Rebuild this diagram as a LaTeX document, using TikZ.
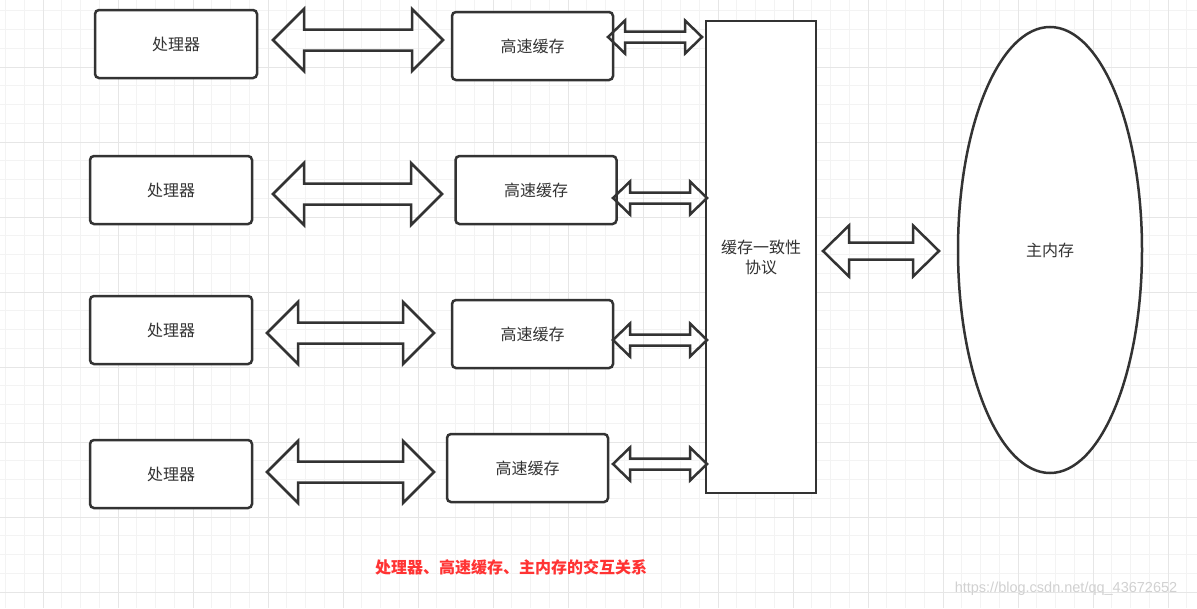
\documentclass[tikz,border=0pt]{standalone}
\usepackage{fontspec}
\usetikzlibrary{calc,shapes.geometric}
\newfontfamily\cjk{Noto Sans CJK SC}
\newfontfamily\wmfont{Liberation Sans}

\definecolor{edge}{HTML}{333333}
\definecolor{minorline}{HTML}{F3F3F3}
\definecolor{majorline}{HTML}{E6E6E6}
\definecolor{captionred}{HTML}{FF3333}
\tikzset{box/.style={draw=edge, fill=white, line width=2.5pt, rounded corners=4pt,
        minimum width=162pt, minimum height=68pt, inner sep=0pt,
        text=edge, font=\cjk\fontsize{16}{19}\selectfont},
    hollow/.style={draw=edge, line width=2.5pt},
    minorgrid/.style={draw=minorline, line width=1pt},
    majorgrid/.style={draw=majorline, line width=1pt}}

% hollow double arrow: from, to, head length, head half width, shaft half width
\newcommand\dblarrow[5]{%
  \draw[hollow] (#1) -- ++(#3,-#4) -- ++(0,#4-#5) -- ($(#2)+(-#3,-#5)$)
    -- ++(0,#5-#4) -- (#2) -- ++(-#3,#4) -- ++(0,#5-#4)
    -- ($(#1)+(#3,#5)$) -- ++(0,#4-#5) -- cycle;}

\begin{document}
\begin{tikzpicture}[x=1pt, y=-1pt]
  \useasboundingbox[fill=white] (0,0) rectangle (1197,608);
  % grid
  \foreach \k in {-2,...,61}
    \draw[minorgrid] ({43+18.75*\k},0) -- ({43+18.75*\k},608);
  \foreach \k in {-3,...,28}
    \draw[minorgrid] (0,{67+18.75*\k}) -- (1197,{67+18.75*\k});
  \foreach \k in {0,...,15}
    \draw[majorgrid] ({43+75*\k},0) -- ({43+75*\k},608);
  \foreach \k in {0,...,7}
    \draw[majorgrid] (0,{67+75*\k}) -- (1197,{67+75*\k});

  % processors
  \node[box] (cpu1) at (176,44) {处理器};
  \node[box] (cpu2) at (171,190) {处理器};
  \node[box] (cpu3) at (171,330) {处理器};
  \node[box] (cpu4) at (171,474) {处理器};
  % caches
  \node[box, minimum width=161pt] (cache1) at (532.5,46) {高速缓存};
  \node[box, minimum width=161pt] (cache2) at (536,190) {高速缓存};
  \node[box, minimum width=161pt] (cache3) at (532.5,334) {高速缓存};
  \node[box, minimum width=161pt] (cache4) at (527.5,468) {高速缓存};
  % coherence protocol and main memory
  \node[box, rounded corners=0pt, minimum width=110pt, minimum height=472pt,
        align=center] (protocol) at (761,257) {缓存一致性\\[1pt]协议};
  \node[box, ellipse, minimum width=184pt, minimum height=446pt]
        (memory) at (1050,250) {主内存};

  % arrow end points
  \coordinate (big1w) at (273,40);  \coordinate (big1e) at (443,40);
  \coordinate (big2w) at (273,194); \coordinate (big2e) at (442,194);
  \coordinate (big3w) at (267,333); \coordinate (big3e) at (434,333);
  \coordinate (big4w) at (267,472); \coordinate (big4e) at (434,472);
  \coordinate (sml1w) at (608,37);  \coordinate (sml1e) at (702,37);
  \coordinate (sml2w) at (613,198); \coordinate (sml2e) at (707,198);
  \coordinate (sml3w) at (613,340); \coordinate (sml3e) at (707,340);
  \coordinate (sml4w) at (613,464); \coordinate (sml4e) at (707,464);
  \coordinate (memw) at (823,251);  \coordinate (meme) at (939,251);

  \foreach \i in {1,...,4} {
    \dblarrow{big\i w}{big\i e}{31}{31}{10.5}
    \dblarrow{sml\i w}{sml\i e}{17}{16.5}{5.5}
  }
  \dblarrow{memw}{meme}{26}{25.5}{8.5}

  \node[text=captionred, font=\cjk\bfseries\fontsize{16}{19}\selectfont]
    (caption) at (511,567) {处理器、高速缓存、主内存的交互关系};
  \node[text=black!18, font=\wmfont\fontsize{14.5}{17}\selectfont]
    (mark) at (1066,589) {https://blog.csdn.net/qq\_43672652};
\end{tikzpicture}
\end{document}
